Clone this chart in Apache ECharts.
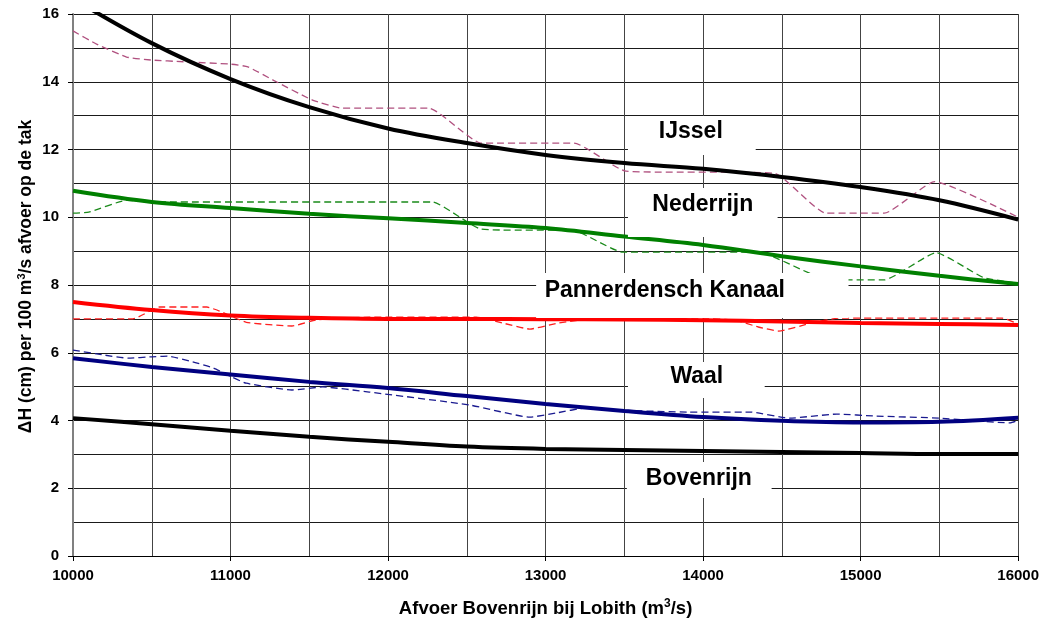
<!DOCTYPE html>
<html>
<head>
<meta charset="utf-8">
<script src="https://cdn.jsdelivr.net/npm/echarts@6/dist/echarts.min.js"></script>
<style>
  html, body { margin: 0; padding: 0; background: #fff; }
  #chart { width: 1042px; height: 625px; }
</style>
</head>
<body>
<div id="chart"></div>
<script>
// Discharge points (m3/s) of the fitted curves
const fitQ = [10000, 10500, 11000, 11500, 12000, 12500, 13000, 13500, 14000, 14500, 15000, 15500, 16000];
// Fitted dH per 100 m3/s for each branch (cm)
const ijsselFit       = [16.45, 15.14, 14.08, 13.25, 12.62, 12.19, 11.84, 11.6, 11.43, 11.19, 10.89, 10.5, 9.93];
const nederrijnFit    = [10.78, 10.45, 10.27, 10.1, 9.97, 9.83, 9.68, 9.43, 9.18, 8.85, 8.55, 8.27, 8.03];
const pannerdenschFit = [7.5, 7.26, 7.1, 7.03, 7.0, 7.0, 6.99, 6.98, 6.96, 6.92, 6.88, 6.85, 6.82];
const waalFit         = [5.84, 5.58, 5.36, 5.14, 4.96, 4.72, 4.49, 4.28, 4.1, 3.99, 3.94, 3.96, 4.08];
const bovenrijnFit    = [4.07, 3.89, 3.7, 3.52, 3.37, 3.23, 3.16, 3.13, 3.1, 3.07, 3.04, 3.01, 3.01];

// Computed (unsmoothed) values per branch
const ijsselCalcQ = [10000, 10150, 10340, 10500, 10700, 11000, 11110, 11270, 11520, 11710, 12260, 12590, 13180, 13510, 14450, 14780, 15150, 15470, 16000];
const ijsselCalc  = [15.5, 15.11, 14.73, 14.64, 14.59, 14.52, 14.44, 14.05, 13.46, 13.22, 13.22, 12.19, 12.19, 11.36, 11.3, 10.12, 10.12, 11.05, 10.0];

const nederrijnCalcQ = [10000, 10100, 10340, 10500, 12280, 12590, 13190, 13490, 14350, 14800, 15150, 15480, 15780, 16000];
const nederrijnCalc  = [10.12, 10.15, 10.5, 10.45, 10.45, 9.65, 9.59, 8.97, 8.97, 8.15, 8.15, 8.95, 8.22, 8.05];

const pannerdenschCalcQ = [10000, 10380, 10550, 10850, 10930, 11100, 11390, 11545, 11880, 12560, 12725, 12900, 13085, 13300, 14000, 14200, 14350, 14480, 14690, 14860, 15900, 16000];
const pannerdenschCalc  = [7.0, 7.0, 7.35, 7.35, 7.23, 6.9, 6.79, 6.97, 7.05, 7.05, 6.88, 6.7, 6.88, 7.0, 7.0, 6.97, 6.76, 6.64, 6.88, 7.02, 7.02, 6.85];

const waalCalcQ = [10000, 10200, 10350, 10500, 10600, 10760, 10890, 11010, 11100, 11390, 11585, 11880, 12515, 12900, 13065, 13257, 13500, 13900, 14300, 14550, 14850, 15100, 15500, 15950, 16000];
const waalCalc  = [6.08, 5.93, 5.84, 5.88, 5.9, 5.73, 5.55, 5.28, 5.1, 4.9, 4.99, 4.84, 4.46, 4.1, 4.22, 4.37, 4.3, 4.25, 4.25, 4.07, 4.19, 4.13, 4.07, 3.93, 4.0];

// Branch names shown in the plot
const branchNames = ['IJssel', 'Nederrijn', 'Pannerdensch Kanaal', 'Waal', 'Bovenrijn'];

// Axis tick settings
const xTicks = { min: 10000, max: 16000, interval: 1000 };
const yTicks = { min: 0, max: 16, interval: 2 };

// Where each name is placed, in axis units: box [q1, q2, top, bottom] and text anchor [q, v]
const nameBoxes = [
  { box: [13523, 14334, 12.99, 11.84], at: [13922, 12.52] },
  { box: [13523, 14473, 10.86, 9.42], at: [13998, 10.36] },
  { box: [12940, 14923, 8.354, 7.026], at: [13757, 7.82] },
  { box: [13523, 14391, 5.727, 4.664], at: [13960, 5.28] },
  { box: [13516, 14435, 2.775, 1.712], at: [13973, 2.27] }
];

const pairs = (qs, vs) => qs.map((q, i) => [q, vs[i]]);
const FONT = '"Liberation Sans", Arial, sans-serif';

function fitSeries(name, values, color) {
  return {
    name, type: 'line', data: pairs(fitQ, values), showSymbol: false, symbol: 'none',
    smooth: 0.35, clip: true, z: 3,
    lineStyle: { color, width: 4 }
  };
}
function calcSeries(name, qs, values, color) {
  return {
    name, type: 'line', data: pairs(qs, values), showSymbol: false, symbol: 'none',
    smooth: 0.15, clip: true, z: 2,
    lineStyle: { color, width: 1.3, type: [7, 4] }
  };
}

const chart = echarts.init(document.getElementById('chart'), null, { renderer: 'canvas' });

chart.setOption({
  animation: false,
  backgroundColor: '#ffffff',
  grid: { left: 73, right: 22, top: 14, bottom: 69, containLabel: false },
  xAxis: {
    type: 'value', min: xTicks.min, max: xTicks.max, interval: xTicks.interval,
    name: '{t|Afvoer Bovenrijn bij Lobith (m}{s|3}{t|/s)}',
    nameLocation: 'middle', nameGap: 42,
    nameTextStyle: {
      rich: {
        t: { fontFamily: FONT, fontWeight: 'bold', fontSize: 18.5, color: '#000', lineHeight: 22 },
        s: { fontFamily: FONT, fontWeight: 'bold', fontSize: 12, color: '#000', lineHeight: 12, verticalAlign: 'top' }
      }
    },
    axisLine: { show: true, lineStyle: { color: '#000', width: 1 } },
    axisTick: { show: true, inside: false, length: 5, lineStyle: { color: '#000' } },
    axisLabel: { fontFamily: FONT, fontWeight: 'bold', fontSize: 15, color: '#000', margin: 12,
                 formatter: v => String(v) },
    splitLine: { show: true, lineStyle: { color: '#444', width: 1 } },
    minorTick: { show: false, splitNumber: 2 },
    minorSplitLine: { show: true, lineStyle: { color: '#444', width: 1 } }
  },
  yAxis: {
    type: 'value', min: yTicks.min, max: yTicks.max, interval: yTicks.interval,
    name: '{t|ΔH (cm) per 100 m}{s|3}{t|/s afvoer op de tak}',
    nameLocation: 'middle', nameGap: 37, nameRotate: 90, nameMoveOverlap: false,
    nameTextStyle: {
      padding: [0, 0, 0, 17],
      rich: {
        t: { fontFamily: FONT, fontWeight: 'bold', fontSize: 17.5, color: '#000', lineHeight: 20 },
        s: { fontFamily: FONT, fontWeight: 'bold', fontSize: 11, color: '#000', lineHeight: 11, verticalAlign: 'top' }
      }
    },
    axisLine: { show: true, lineStyle: { color: '#808080', width: 2 } },
    axisTick: { show: true, inside: false, length: 5, lineStyle: { color: '#000' } },
    axisLabel: { fontFamily: FONT, fontWeight: 'bold', fontSize: 15, color: '#000', margin: 14 },
    splitLine: { show: true, lineStyle: { color: '#1a1a1a', width: 1 } },
    minorTick: { show: false, splitNumber: 2 },
    minorSplitLine: { show: true, lineStyle: { color: '#1a1a1a', width: 1 } }
  },
  series: [
    calcSeries('IJssel berekend', ijsselCalcQ, ijsselCalc, '#b0507f'),
    calcSeries('Nederrijn berekend', nederrijnCalcQ, nederrijnCalc, '#1a8a1a'),
    calcSeries('Pannerdensch Kanaal berekend', pannerdenschCalcQ, pannerdenschCalc, '#ff2020'),
    calcSeries('Waal berekend', waalCalcQ, waalCalc, '#1a1a90'),
    fitSeries('IJssel', ijsselFit, '#000000'),
    fitSeries('Nederrijn', nederrijnFit, '#008000'),
    fitSeries('Pannerdensch Kanaal', pannerdenschFit, '#ff0000'),
    fitSeries('Waal', waalFit, '#000080'),
    fitSeries('Bovenrijn', bovenrijnFit, '#000000'),
    {
      name: 'namen', type: 'custom', z: 10, silent: true,
      data: nameBoxes.map((b, i) => [b.box[0], b.box[1], b.box[2], b.box[3], b.at[0], b.at[1], i]),
      renderItem: function (params, api) {
        const p1 = api.coord([api.value(0), api.value(2)]);
        const p2 = api.coord([api.value(1), api.value(3)]);
        const t = api.coord([api.value(4), api.value(5)]);
        const label = branchNames[api.value(6)];
        return {
          type: 'group',
          children: [
            { type: 'rect', shape: { x: p1[0], y: p1[1], width: p2[0] - p1[0], height: p2[1] - p1[1] },
              style: { fill: '#ffffff' } },
            { type: 'text', x: t[0], y: t[1],
              style: { text: label, fill: '#000', align: 'center', verticalAlign: 'middle',
                       font: 'bold 23px ' + FONT } }
          ]
        };
      }
    }
  ]
});
</script>
</body>
</html>
